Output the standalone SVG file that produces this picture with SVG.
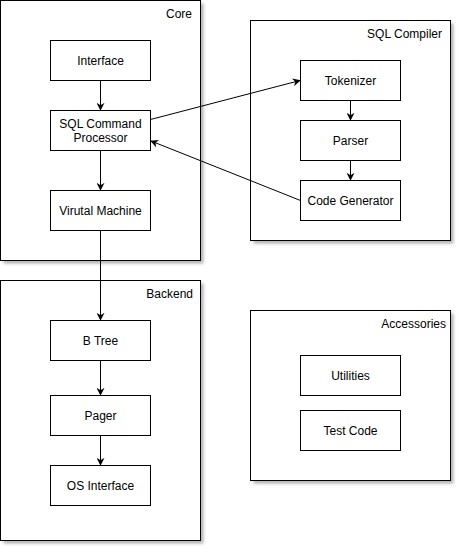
<svg xmlns="http://www.w3.org/2000/svg" width="462" height="553" viewBox="0 0 462 553">
<defs>
<filter id="sh" x="-10%" y="-10%" width="130%" height="130%">
<feGaussianBlur stdDeviation="1.5"/>
</filter>
<marker id="arr" viewBox="0 0 10 10" refX="9" refY="5" markerWidth="8" markerHeight="8" markerUnits="userSpaceOnUse" orient="auto">
<path d="M0,0 L10,5 L0,10 L3,5 Z" fill="#000"/>
</marker>
</defs>
<style>
.cont{fill:#fff;stroke:#000;stroke-width:1}
.shadow{fill:#808080;opacity:0.6;filter:url(#sh)}
.node{fill:#fff;stroke:#000;stroke-width:1}
text{font-family:"Liberation Sans",Arial,sans-serif;font-size:12px;fill:#000}
.c{text-anchor:middle}
.r{text-anchor:end}
.edge{fill:none;stroke:#000;stroke-width:1;marker-end:url(#arr)}
</style>
<rect x="0" y="0" width="462" height="553" fill="#fff"/>
<g id="core">
<rect class="shadow" x="3.5" y="3.5" width="200" height="260"/>
<rect class="cont" x="0.5" y="0.5" width="200" height="260"/>
<text class="r" x="192" y="18">Core</text>
</g>
<g id="sqlcompiler">
<rect class="shadow" x="253.5" y="23.5" width="200" height="220"/>
<rect class="cont" x="250.5" y="20.5" width="200" height="220"/>
<text class="r" x="442" y="38">SQL Compiler</text>
</g>
<g id="backend">
<rect class="shadow" x="3.5" y="283.5" width="200" height="260"/>
<rect class="cont" x="0.5" y="280.5" width="200" height="260"/>
<text class="r" x="193" y="298">Backend</text>
</g>
<g id="accessories">
<rect class="shadow" x="253.5" y="313.5" width="200" height="170"/>
<rect class="cont" x="250.5" y="310.5" width="200" height="170"/>
<text class="r" x="446" y="328">Accessories</text>
</g>
<g id="interface"><rect class="node" x="50.5" y="40.5" width="100" height="40"/><text class="c" x="100.5" y="65">Interface</text></g>
<g id="sqlcmd"><rect class="node" x="50.5" y="110.5" width="100" height="40"/><text class="c" x="100.5" y="128">SQL Command</text><text class="c" x="100.5" y="142">Processor</text></g>
<g id="vm"><rect class="node" x="50.5" y="190.5" width="100" height="40"/><text class="c" x="100.5" y="215">Virutal Machine</text></g>
<g id="tokenizer"><rect class="node" x="300.5" y="60.5" width="100" height="40"/><text class="c" x="350.5" y="85">Tokenizer</text></g>
<g id="parser"><rect class="node" x="300.5" y="120.5" width="100" height="40"/><text class="c" x="350.5" y="145">Parser</text></g>
<g id="codegen"><rect class="node" x="300.5" y="180.5" width="100" height="40"/><text class="c" x="350.5" y="205">Code Generator</text></g>
<g id="btree"><rect class="node" x="50.5" y="320.5" width="100" height="40"/><text class="c" x="100.5" y="345">B Tree</text></g>
<g id="pager"><rect class="node" x="50.5" y="395.5" width="100" height="40"/><text class="c" x="100.5" y="420">Pager</text></g>
<g id="osinterface"><rect class="node" x="50.5" y="465.5" width="100" height="40"/><text class="c" x="100.5" y="490">OS Interface</text></g>
<g id="utilities"><rect class="node" x="300.5" y="355.5" width="100" height="40"/><text class="c" x="350.5" y="380">Utilities</text></g>
<g id="testcode"><rect class="node" x="300.5" y="410.5" width="100" height="40"/><text class="c" x="350.5" y="435">Test Code</text></g>
<g id="connectors">
<path class="edge" d="M100.5,80.5 L100.5,110"/>
<path class="edge" d="M100.5,150.5 L100.5,190"/>
<path class="edge" d="M100.5,230.5 L100.5,320"/>
<path class="edge" d="M100.5,360.5 L100.5,395"/>
<path class="edge" d="M100.5,435.5 L100.5,465"/>
<path class="edge" d="M350.5,100.5 L350.5,120"/>
<path class="edge" d="M350.5,160.5 L350.5,180"/>
<path class="edge" d="M150.5,119.5 L300,80.5"/>
<path class="edge" d="M300.5,200.5 L151,141"/>
</g>
</svg>
